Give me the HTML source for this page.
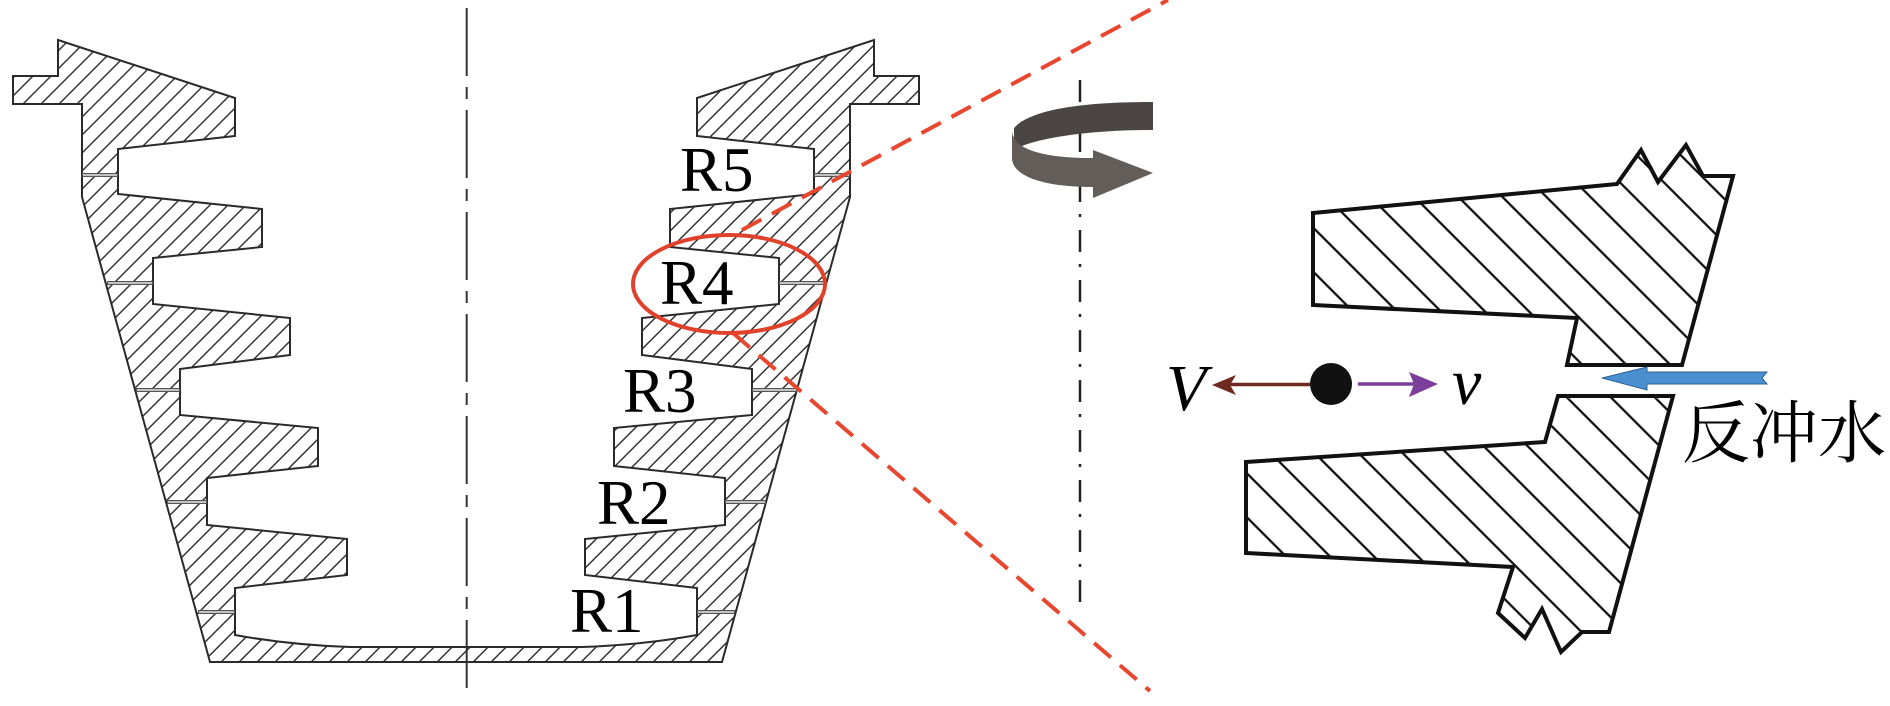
<!DOCTYPE html>
<html>
<head>
<meta charset="utf-8">
<style>
  html, body { margin:0; padding:0; background:#fff; }
  body { position:relative; width:1890px; height:706px; overflow:hidden; }
  svg { display:block; position:absolute; left:0; top:0; }
  .t { position:absolute; white-space:nowrap; color:#000; margin:0; padding:0; }
  .lbl { font-family: "Liberation Serif", "DejaVu Serif", serif; font-size:63px; line-height:63px; }
  .it { font-family: "Liberation Serif", "DejaVu Serif", serif; font-style:italic; font-size:66px; line-height:66px; }
  .cjk { font-family: "Liberation Serif", "Noto Serif CJK SC", serif; font-size:68px; line-height:68px; }
</style>
</head>
<body>
<svg width="1890" height="706" viewBox="0 0 1890 706" xmlns="http://www.w3.org/2000/svg">
  <defs>
    <pattern id="hA" patternUnits="userSpaceOnUse" width="12.73" height="20" patternTransform="rotate(45)">
      <rect x="0" y="0" width="1.4" height="20" fill="#2b2b2b"/>
    </pattern>
    <pattern id="hB" patternUnits="userSpaceOnUse" width="31.11" height="40" patternTransform="translate(28,0) rotate(-45)">
      <rect x="0" y="0" width="2.3" height="40" fill="#111"/>
    </pattern>
    <pattern id="hC" patternUnits="userSpaceOnUse" width="31.11" height="40" patternTransform="translate(24,0) rotate(-45)">
      <rect x="0" y="0" width="2.3" height="40" fill="#111"/>
    </pattern>
  </defs>

  <rect width="1890" height="706" fill="#fff"/>

  <!-- Left cross-section -->
  <path fill="url(#hA)" stroke="#2a2a2a" stroke-width="2" stroke-linejoin="miter"
    d="M58,40 L235,98 L235,136 L118,149 L118,194 L262,209 L262,247 L153,258 L153,304 L290,318 L290,355 L180,369 L180,415 L318,428 L318,466 L207,478 L207,525 L347,539 L347,575 L235,588 L235,635 Q290,645 350,647 L582,647 Q642,645 697,635 L697,588 L585,575 L585,539 L725,525 L725,478 L614,466 L614,428 L752,415 L752,369 L642,355 L642,318 L779,304 L779,258 L670,247 L670,209 L814,194 L814,149 L697,136 L697,98 L874,40 L874,76 L919,76 L919,104 L850,104 L850,197 L722,662 L210,662 L82,197 L82,104 L13,104 L13,76 L58,76 Z"/>

  <!-- joints -->
  <g stroke="#555" stroke-width="4">
    <line x1="82" y1="175" x2="118" y2="175"/>
    <line x1="107" y1="283" x2="153" y2="283"/>
    <line x1="136" y1="390" x2="180" y2="390"/>
    <line x1="167" y1="502" x2="207" y2="502"/>
    <line x1="198" y1="612" x2="235" y2="612"/>
    <line x1="814" y1="175" x2="850" y2="175"/>
    <line x1="779" y1="283" x2="825" y2="283"/>
    <line x1="752" y1="390" x2="797" y2="390"/>
    <line x1="725" y1="502" x2="766" y2="502"/>
    <line x1="697" y1="612" x2="735" y2="612"/>
  </g>
  <g stroke="#e6e6e6" stroke-width="1.4">
    <line x1="83" y1="175" x2="117" y2="175"/>
    <line x1="108" y1="283" x2="152" y2="283"/>
    <line x1="137" y1="390" x2="179" y2="390"/>
    <line x1="168" y1="502" x2="206" y2="502"/>
    <line x1="199" y1="612" x2="234" y2="612"/>
    <line x1="815" y1="175" x2="849" y2="175"/>
    <line x1="780" y1="283" x2="824" y2="283"/>
    <line x1="753" y1="390" x2="796" y2="390"/>
    <line x1="726" y1="502" x2="765" y2="502"/>
    <line x1="698" y1="612" x2="734" y2="612"/>
  </g>

  <!-- left centerline -->
  <line x1="466.7" y1="8" x2="466.7" y2="690" stroke="#333" stroke-width="2" stroke-dasharray="68 11 12 11"/>

  <!-- red ellipse and dashed lines -->
  <ellipse cx="729" cy="284" rx="96" ry="49" fill="none" stroke="#e0412b" stroke-width="4"/>
  <line x1="742" y1="230" x2="1168" y2="0" stroke="#e8472f" stroke-width="4" stroke-dasharray="22 12"/>
  <line x1="733" y1="333" x2="1150" y2="691" stroke="#e8472f" stroke-width="4" stroke-dasharray="22 12"/>

  <!-- right centerline -->
  <line x1="1080" y1="80" x2="1080" y2="607" stroke="#222" stroke-width="2.5" stroke-dasharray="22 12 3 13"/>

  <!-- rotation arrow -->
  <path fill="#4b4543" d="M1153,102 C1080,102 1030,110 1014,128 L1014,150 C1030,140 1080,130 1153,130 Z"/>
  <path fill="#635d5a" d="M1012,130 C1012,150 1045,158 1093,158 L1093,150 L1153,173 L1093,198 L1093,187 C1040,187 1012,175 1012,158 Z"/>

  <!-- detail upper piece -->
  <path fill="url(#hB)" stroke="#111" stroke-width="4" stroke-linejoin="miter"
    d="M1313,213 L1617,184 L1641,150 L1658,182 L1686,145 L1703,176 L1733,176 L1682,365 L1567,365 L1577,318 L1313,305 Z"/>

  <!-- detail lower piece -->
  <path fill="url(#hC)" stroke="#111" stroke-width="4" stroke-linejoin="miter"
    d="M1246,462 L1545,442 L1558,396 L1673,396 L1609,632 L1582,632 L1561,652 L1542,609 L1525,638 L1498,613 L1513,567 L1246,553 Z"/>

  <!-- particle and velocity arrows -->
  <circle cx="1331" cy="384" r="21" fill="#111"/>
  <line x1="1310" y1="384.5" x2="1228" y2="384.5" stroke="#6e2a20" stroke-width="3.5"/>
  <polygon points="1212,385 1236,375 1230,385 1236,395" fill="#6e2a20"/>
  <line x1="1358" y1="384" x2="1418" y2="384" stroke="#7b3f99" stroke-width="3.5"/>
  <polygon points="1438,384 1409,372 1414,384 1409,397" fill="#7b3f99"/>

  <!-- backflush water arrow -->
  <polygon points="1602,378 1647,367 1647,372 1767,372 1762,378 1767,384 1647,384 1647,390"
    fill="#4a90d0" stroke="#2f5f8f" stroke-width="1"/>
</svg>

<div class="t lbl" style="left:680px; top:139px;">R5</div>
<div class="t lbl" style="left:660px; top:252px;">R4</div>
<div class="t lbl" style="left:623px; top:360px;">R3</div>
<div class="t lbl" style="left:597px; top:472px;">R2</div>
<div class="t lbl" style="left:570px; top:580px;">R1</div>

<div class="t it" style="left:1166px; top:356px;">V</div>
<div class="t it" style="left:1452px; top:350px;">v</div>

<div class="t cjk" style="left:1682px; top:400px;">反冲水</div>
</body>
</html>
